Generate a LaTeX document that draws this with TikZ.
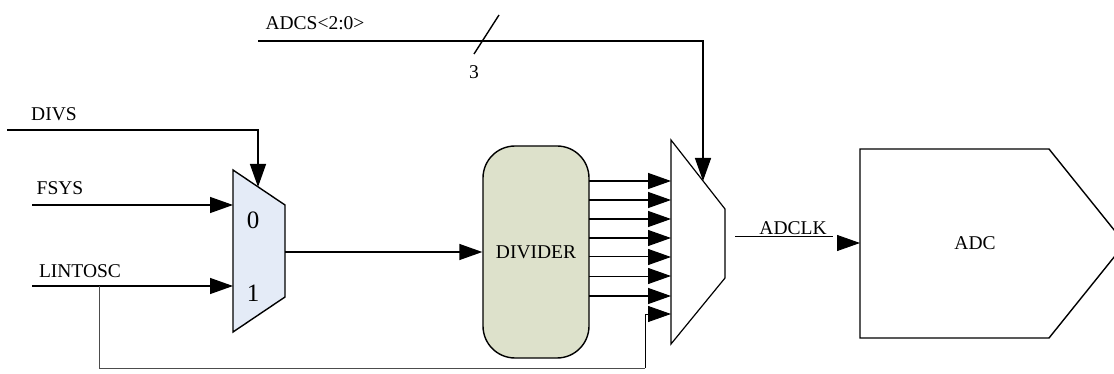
\documentclass[tikz,border=0pt]{standalone}
\usepackage{fontspec}
\setmainfont{Liberation Serif}
\usetikzlibrary{arrows.meta}
\definecolor{muxblue}{HTML}{E4EBF7}
\definecolor{divgreen}{HTML}{DDE1CB}
\begin{document}
\begin{tikzpicture}[x=1pt,y=-1pt,
  wire/.style={line width=1.4pt},
  thinwire/.style={line width=0.9pt},
  tip/.style={-{Triangle[length=23pt,width=16pt]}},
  arr/.style={wire,tip},
  lbl/.style={font=\fontsize{19.5}{22}\selectfont, inner sep=0pt},
  big/.style={font=\fontsize{25}{28}\selectfont, inner sep=0pt},
  blk/.style={draw, line width=1.4pt}]
\path[use as bounding box] (0,0) rectangle (1114,374);
\clip (0,0) rectangle (1114,374);

% mux 1
\coordinate (m1a) at (233,170);
\coordinate (m1b) at (285,205);
\coordinate (m1c) at (285,297);
\coordinate (m1d) at (233,332);
\draw[blk, fill=muxblue] (m1a) -- (m1b) -- (m1c) -- (m1d) -- cycle;
\node[big] (zero) at (253,220) {0};
\node[big] (one) at (253,293) {1};

% divider
\node[blk, fill=divgreen, rounded corners=32pt, minimum width=106pt, minimum height=212pt, inner sep=0pt, font=\fontsize{19.5}{22}\selectfont] (div) at (536,252) {DIVIDER};

% mux 2
\coordinate (m2a) at (671,140);
\coordinate (m2b) at (725,209);
\coordinate (m2c) at (725,278);
\coordinate (m2d) at (671,344);
\draw[blk, fill=white, line width=1.2pt] (m2a) -- (m2b) -- (m2c) -- (m2d) -- cycle;

% ADC block
\coordinate (adca) at (860,149);
\coordinate (adcb) at (1049,149);
\coordinate (adcc) at (1125,243.5);
\coordinate (adcd) at (1049,338);
\coordinate (adce) at (860,338);
\draw[blk] (adca) -- (adcb) -- (adcc) -- (adcd) -- (adce) -- cycle;
\node[lbl] (adc) at (975,243) {ADC};

% labels
\node[lbl] (adcs) at (315,23) {ADCS<2:0>};
\node[lbl] (three) at (474,72) {3};
\node[lbl] (divs) at (54,114) {DIVS};
\node[lbl] (fsys) at (60,188) {FSYS};
\node[lbl] (lint) at (80,271) {LINTOSC};
\node[lbl] (adclk) at (793,228) {ADCLK};

% ADCS bus
\coordinate (adcsS) at (258,41);
\coordinate (adcsT) at (703,181);
\draw[arr] (adcsS) -| (adcsT);
\coordinate (sl1) at (474,54);
\coordinate (sl2) at (499,15);
\draw[wire] (sl1) -- (sl2);

% DIVS select
\coordinate (divsS) at (7,130);
\coordinate (divsT) at (258,187);
\draw[arr] (divsS) -| (divsT);

% FSYS
\coordinate (fsysS) at (32,205);
\coordinate (fsysT) at (233,205);
\draw[arr] (fsysS) -- (fsysT);

% LINTOSC
\coordinate (lintS) at (32,286);
\coordinate (lintT) at (233,286);
\draw[arr] (lintS) -- (lintT);

% mux1 -> divider
\coordinate (m1out) at (285,252);
\draw[arr] (m1out) -- (div.west);

% divider outputs
\foreach \y/\w in {181/1.4,200/1.4,219/1.4,238/1.1,257/1.0,276/1.0,296/1.4}{
  \draw[line width=\w pt,tip] (589,\y) -- (671,\y);
}

% feedback of LINTOSC
\coordinate (fb1) at (99,286);
\coordinate (fb2) at (645,368);
\coordinate (fbT) at (671,314);
\draw[line width=1pt, black!70] (fb1) |- (fb2);
\draw[thinwire,tip] (fb2) |- (fbT);

% ADCLK
\coordinate (clkS) at (735,236);
\coordinate (clkE) at (833,236);
\draw[thinwire] (clkS) -- (clkE);
\coordinate (clkA) at (837,243);
\draw[thinwire,tip] (clkA) -- (adca |- clkA);
\end{tikzpicture}
\end{document}
